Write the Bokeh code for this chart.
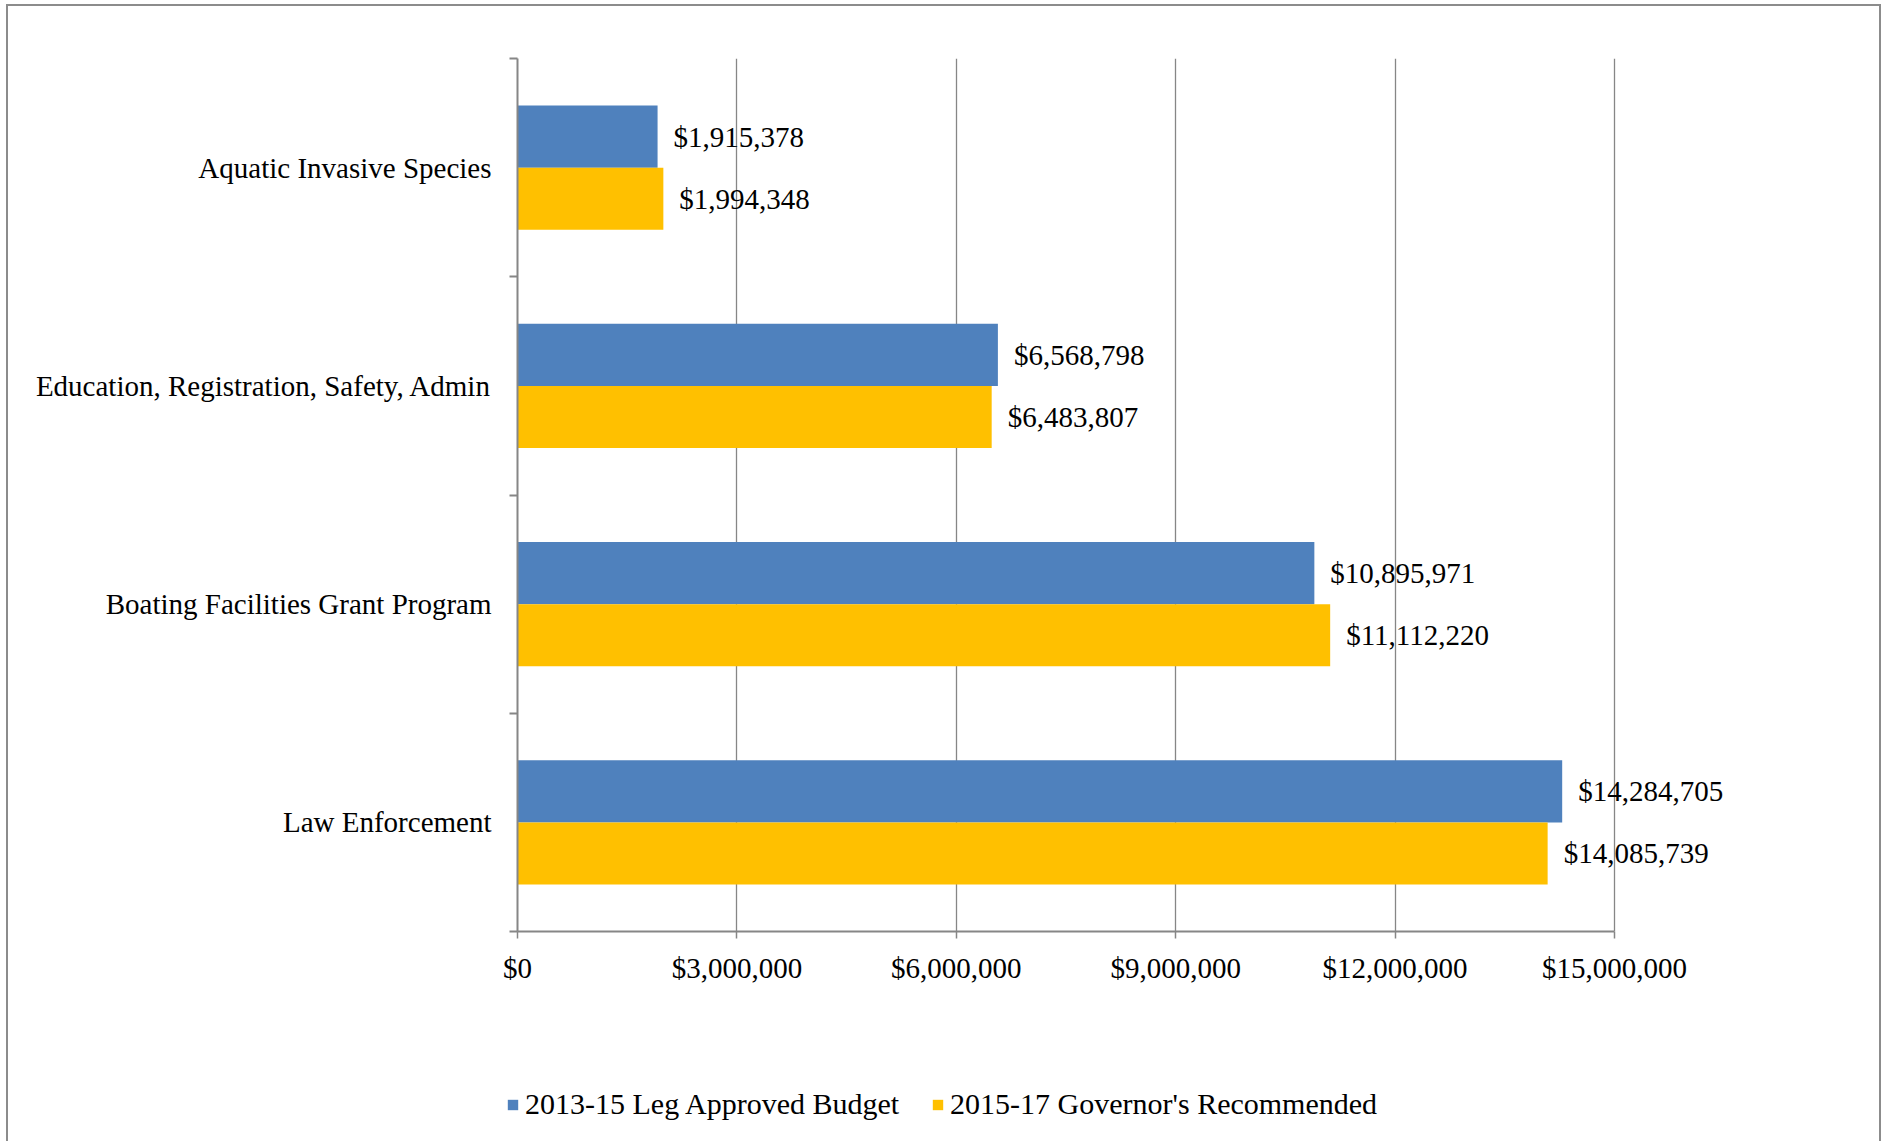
from bokeh.plotting import figure
from bokeh.layouts import column
from bokeh.models import (Range1d, FixedTicker, NumeralTickFormatter, Legend, LegendItem,
                          ColumnDataSource)
from bokeh.core.properties import value
from bokeh.embed import file_html
from bokeh.resources import INLINE

categories = ["Aquatic Invasive Species",
              "Education, Registration, Safety, Admin",
              "Boating Facilities Grant Program",
              "Law Enforcement"]
budget_2013_15 = [1915378, 6568798, 10895971, 14284705]
recommended_2015_17 = [1994348, 6483807, 11112220, 14085739]
series_names = ["2013-15 Leg Approved Budget", "2015-17 Governor's Recommended"]
x_ticks = [0, 3000000, 6000000, 9000000, 12000000, 15000000]

BLUE = "#4F81BD"
GOLD = "#FFC000"
GRAY = "#868686"
EDGE = "2px solid #8c8c8c"
FONT = "Liberation Serif"
FS = "29px"

n = len(categories)
centers = [n - i - 0.5 for i in range(n)]
bounds_y = [float(k) for k in range(n + 1)]
bar_h = 0.285
off = bar_h / 2

W = 1875            # canvas width (borders are added outside)
HM = 1008           # main canvas height
HL = 1143 - 4 - 2 - HM  # legend strip height
left_b, top_b = 509, 52
frame_bottom = 925
bot_b = HM - frame_bottom
axis_right = 1606   # canvas px where the last tick sits
right_b = 20
frame_w = W - left_b - right_b
x_end = x_ticks[-1] * frame_w / (axis_right - left_b)

p = figure(width=W, height=HM, x_range=Range1d(0, x_end), y_range=Range1d(0, n),
           output_backend="svg", toolbar_location=None,
           min_border_left=left_b, min_border_right=right_b,
           min_border_top=top_b, min_border_bottom=bot_b)
p.frame_align = False
p.outline_line_color = None
p.background_fill_color = "white"
p.border_fill_color = "white"
p.styles = {"margin-left": "6px", "margin-top": "4px",
            "border-top": EDGE, "border-left": EDGE, "border-right": EDGE}

src_a = ColumnDataSource(dict(y=[c + off for c in centers], v=budget_2013_15,
                              lab=["${:,}".format(v) for v in budget_2013_15]))
src_b = ColumnDataSource(dict(y=[c - off for c in centers], v=recommended_2015_17,
                              lab=["${:,}".format(v) for v in recommended_2015_17]))

p.hbar(y="y", right="v", left=0, height=bar_h, source=src_a,
       fill_color=BLUE, line_color=None)
p.hbar(y="y", right="v", left=0, height=bar_h, source=src_b,
       fill_color=GOLD, line_color=None)

for s in (src_a, src_b):
    p.text(x="v", y="y", text="lab", source=s, x_offset=16, text_baseline="middle",
           text_align="left", text_font=value(FONT), text_font_size=FS, text_color="black")

# x axis
xa = p.xaxis[0]
xa.ticker = FixedTicker(ticks=x_ticks)
xa.formatter = NumeralTickFormatter(format="$0,0")
xa.bounds = (x_ticks[0], x_ticks[-1])
xa.axis_line_color = GRAY
xa.axis_line_width = 2
xa.major_tick_line_color = GRAY
xa.major_tick_line_width = 1.5
xa.major_tick_in = 0
xa.major_tick_out = 7
xa.minor_tick_line_color = None
xa.major_label_standoff = 13
xa.major_label_text_font = FONT
xa.major_label_text_font_size = FS
xa.major_label_text_color = "black"

# y axis
ya = p.yaxis[0]
ya.ticker = FixedTicker(ticks=centers, minor_ticks=bounds_y)
ya.major_label_overrides = {c: name for c, name in zip(centers, categories)}
ya.axis_line_color = GRAY
ya.axis_line_width = 2
ya.major_tick_line_color = None
ya.major_tick_in = 0
ya.major_tick_out = 0
ya.minor_tick_line_color = GRAY
ya.minor_tick_line_width = 2
ya.minor_tick_in = 0
ya.minor_tick_out = 8
ya.major_label_standoff = 18
ya.major_label_text_font = FONT
ya.major_label_text_font_size = FS
ya.major_label_text_color = "black"

p.xgrid.ticker = FixedTicker(ticks=x_ticks)
p.xgrid.grid_line_color = GRAY
p.xgrid.grid_line_width = 1.3
p.ygrid.visible = False

# legend strip
pl = figure(width=W, height=HL, x_range=Range1d(0, 1), y_range=Range1d(0, 1),
            output_backend="svg", toolbar_location=None,
            x_axis_location=None, y_axis_location=None,
            min_border=0, min_border_left=0, min_border_right=0,
            min_border_top=0, min_border_bottom=0)
pl.frame_align = False
pl.outline_line_color = None
pl.grid.visible = False
pl.background_fill_color = "white"
pl.border_fill_color = "white"
pl.styles = {"margin-left": "6px", "border-left": EDGE, "border-right": EDGE}

# swatch renderers kept outside the visible range; only their legend glyphs show
l1 = pl.hbar(y=[-10], right=[1], left=0, height=0.1, fill_color=BLUE, line_color=None)
l2 = pl.hbar(y=[-10], right=[1], left=0, height=0.1, fill_color=GOLD, line_color=None)

legend = Legend(items=[LegendItem(label=series_names[0], renderers=[l1]),
                       LegendItem(label=series_names[1], renderers=[l2])],
                orientation="horizontal", location=(498, 20),
                glyph_width=13, glyph_height=13, label_standoff=6, spacing=32,
                padding=0, margin=0, border_line_color=None, background_fill_alpha=0,
                label_text_font=FONT, label_text_font_size="30px", label_text_color="black")
pl.add_layout(legend, "center")

layout = column(p, pl, spacing=0)
open("out.html", "w").write(file_html(layout, INLINE))
